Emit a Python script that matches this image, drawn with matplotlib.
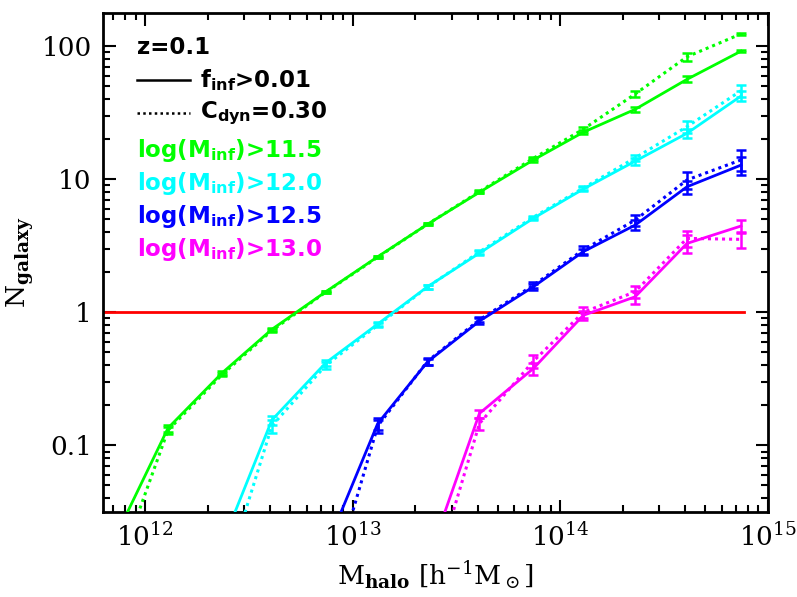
import numpy as np
import matplotlib
matplotlib.use('Agg')
import matplotlib.pyplot as plt

# ---------------------------------------------------------------------------
#  data (log10 halo mass bin centres)
# ---------------------------------------------------------------------------
logM = np.array([11.86, 12.11, 12.37, 12.61, 12.87, 13.12, 13.36,
                 13.61, 13.87, 14.11, 14.36, 14.61, 14.87])

# first entry of each series is the bin just below the plot floor
green_solid  = [0.021, 0.135, 0.35, 0.745, 1.43, 2.62, 4.6, 8.0, 14.0, 22.6, 33.6, 56.5, 92.0]
green_dotted = [0.0107, 0.13, 0.34, 0.73, 1.42, 2.6, 4.6, 8.1, 14.4, 23.8, 43.8, 83.5, 124.0]
green_err_s  = [0, 0.008, 0.01, 0.015, 0.02, 0.04, 0.08, 0.15, 0.4, 0.8, 1.5, 3.0, 2.0]
green_err_d  = [0, 0.008, 0.01, 0.015, 0.02, 0.04, 0.08, 0.15, 0.4, 1.0, 2.5, 6.0, 3.0]

cyan_solid  = [0.018, 0.155, 0.418, 0.817, 1.56, 2.79, 5.1, 8.45, 13.7, 22.2, 42.3]
cyan_dotted = [0.0087, 0.14, 0.40, 0.80, 1.55, 2.85, 5.2, 8.6, 14.5, 24.9, 46.4]
cyan_err_s  = [0, 0.012, 0.02, 0.03, 0.05, 0.08, 0.15, 0.3, 0.8, 1.8, 3.5]
cyan_err_d  = [0, 0.015, 0.025, 0.03, 0.05, 0.08, 0.15, 0.3, 0.8, 2.5, 4.5]

blue_solid  = [0.0167, 0.146, 0.425, 0.86, 1.56, 2.86, 4.53, 8.8, 12.8]
blue_dotted = [0.0065, 0.14, 0.43, 0.88, 1.6, 2.95, 4.94, 9.9, 14.0]
blue_err_s  = [0, 0.015, 0.02, 0.04, 0.08, 0.15, 0.4, 1.0, 2.0]
blue_err_d  = [0, 0.015, 0.025, 0.04, 0.08, 0.2, 0.45, 1.4, 2.5]

mag_solid  = [0.0134, 0.174, 0.379, 0.95, 1.31, 3.3, 4.46]
mag_dotted = [0.0072, 0.146, 0.43, 1.0, 1.43, 3.6, 3.54]
mag_err_s  = [0, 0.012, 0.04, 0.08, 0.15, 0.5, 0.5]
mag_err_d  = [0, 0.015, 0.05, 0.1, 0.15, 0.5, 0.5]

series = [
    ('#00ff00', '11.5', green_solid, green_dotted, green_err_s, green_err_d),
    ('#00ffff', '12.0', cyan_solid, cyan_dotted, cyan_err_s, cyan_err_d),
    ('#0000ff', '12.5', blue_solid, blue_dotted, blue_err_s, blue_err_d),
    ('#ff00ff', '13.0', mag_solid, mag_dotted, mag_err_s, mag_err_d),
]

ref_level = 1.0
ref_span = [6.0e11, 7.7e14]

# ---------------------------------------------------------------------------
#  figure
# ---------------------------------------------------------------------------
plt.rcParams['mathtext.fontset'] = 'dejavuserif'
fig = plt.figure(figsize=(7.97, 5.97), dpi=100)
ax = fig.add_axes([0.129, 0.1424, 0.8346, 0.8358])

dot_ls = (0, (1.0, 1.3))
for col, lab, ys, yd, es, ed in series:
    n = len(ys)
    x = 10 ** logM[-n:]
    ax.plot(x, ys, color=col, lw=2.0, zorder=3)
    ax.plot(x, yd, color=col, lw=2.2, ls=dot_ls, zorder=3)
    ax.errorbar(x[1:], ys[1:], yerr=es[1:], fmt='none', ecolor=col,
                elinewidth=1.8, capsize=3.5, capthick=1.8, zorder=4)
    ax.errorbar(x[1:], yd[1:], yerr=ed[1:], fmt='none', ecolor=col,
                elinewidth=1.8, capsize=3.5, capthick=1.8, zorder=4)

ax.plot(ref_span, [ref_level, ref_level], color='#ff0000', lw=2.0, zorder=2)

ax.set_xscale('log')
ax.set_yscale('log')
ax.set_xlim(6.25e11, 1.0e15)
ax.set_ylim(0.0316, 178)

ax.set_yticks([0.1, 1, 10, 100])
ax.set_yticklabels(['0.1', '1', '10', '100'])
ax.set_xticks([1e12, 1e13, 1e14, 1e15])
ax.set_xticklabels([r'$10^{12}$', r'$10^{13}$', r'$10^{14}$', r'$10^{15}$'])

ax.tick_params(which='both', direction='in', top=True, right=True, width=1.5)
ax.tick_params(which='major', length=9, labelsize=19, pad=8)
ax.tick_params(which='minor', length=5)
for lbl in ax.get_xticklabels() + ax.get_yticklabels():
    lbl.set_family('DejaVu Serif')
for sp in ax.spines.values():
    sp.set_linewidth(2)

ax.set_xlabel(r'M$_{\mathbf{halo}}$ [h$^{-1}$M$_\odot$]', fontsize=19,
              family='DejaVu Serif', labelpad=6)
ax.set_ylabel(r'N$_{\mathbf{galaxy}}$', fontsize=19, family='DejaVu Serif',
              labelpad=4)

# in-plot key
def axpos(px, py):
    return (px - 103) / 665.0, (512 - py) / 499.0

plt.rcParams['mathtext.fontset'] = 'dejavusans'
kfs = 16.5
tx, ty = axpos(137, 47)
ax.text(tx, ty, 'z=0.1', transform=ax.transAxes, fontsize=kfs, va='center',
        weight='bold')
x0, yl = axpos(137, 80)
x1, _ = axpos(190, 80)
ax.plot([x0, x1], [yl, yl], color='k', lw=1.8, transform=ax.transAxes)
tx, _ = axpos(200, 80)
ax.text(tx, yl, r'f$_{\mathbf{inf}}$>0.01', transform=ax.transAxes,
        fontsize=kfs, va='center', weight='bold')
_, yl = axpos(137, 113)
ax.plot([x0, x1], [yl, yl], color='k', lw=1.8, ls=dot_ls, transform=ax.transAxes)
ax.text(tx, yl, r'C$_{\mathbf{dyn}}$=0.30', transform=ax.transAxes,
        fontsize=kfs, va='center', weight='bold')
for i, (col, lab, *_rest) in enumerate(series):
    tx0, ty0 = axpos(137, 150 + 33 * i)
    ax.text(tx0, ty0, r'log(M$_{\mathbf{inf}}$)>' + lab, color=col,
            transform=ax.transAxes, fontsize=kfs, va='center', weight='bold')

fig.savefig('out.png', dpi=100)
